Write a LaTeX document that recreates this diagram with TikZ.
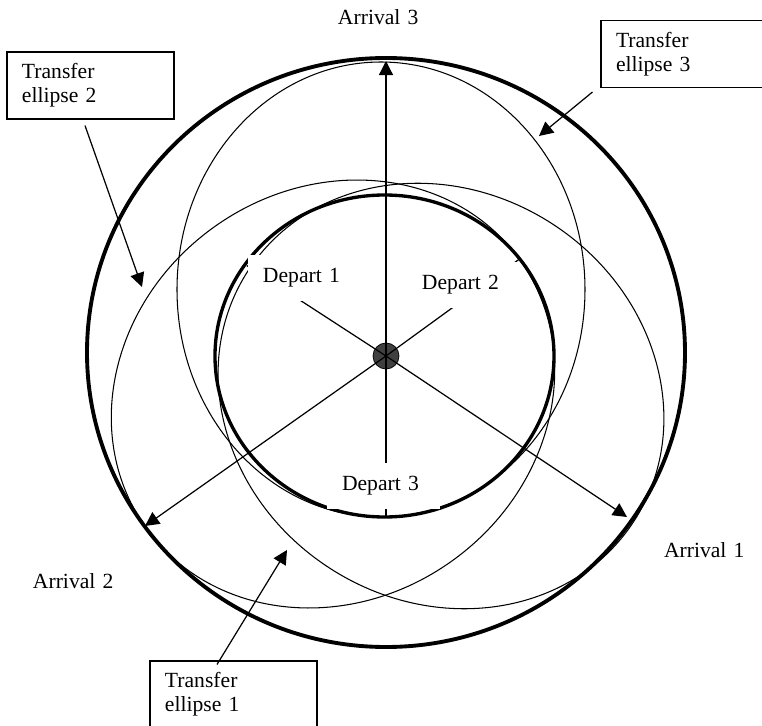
\documentclass[tikz,border=0pt]{standalone}
\usepackage{fontspec}
\setmainfont{Liberation Serif}
\usetikzlibrary{arrows.meta}
\definecolor{sungray}{RGB}{64,64,64}

\begin{document}
\begin{tikzpicture}[x=2cm,y=2cm,font=\fontsize{12.3}{13.8}\selectfont,
        orbit/.style={line width=2.2pt},
        transfer/.style={line width=0.6pt},
        ray/.style={line width=0.7pt},
        ptr/.style={line width=0.7pt,-{Triangle[length=8pt,width=8pt]}},
        tag/.style={fill=white,inner xsep=0.3cm,inner ysep=0pt,minimum height=0.92cm,text width=1.66cm,align=left},
        callout/.style={draw,line width=0.6pt,fill=white,inner xsep=0.3cm,inner ysep=0pt,minimum height=1.34cm,text width=2.74cm,align=left}]
        \clip (-3.86,3.56) rectangle (3.76,-3.70);

        % Transfer ellipses
        \draw[transfer] (-0.05,0.665) ellipse (2.04 and 2.275); % 3
        \draw[transfer,shift={(0.55,-0.40)},rotate=-33] (0,0) ellipse (2.30 and 2.05); % 1
        \draw[transfer,shift={(-0.53,-0.38)},rotate=36] (0,0) ellipse (2.30 and 2.05); % 2

        % Orbits
        \draw[orbit] (0,0.035) ellipse (2.99 and 2.945);
        \draw[line width=1.9pt] (-0.015,0) ellipse (1.695 and 1.61);

        % Sun
        \node[circle,draw,fill=sungray,minimum size=0.52cm,inner sep=0pt] (sun) at (0,0) {};

        \coordinate (d1) at (147:1.66); % Depart points
        \coordinate (d2) at (36:1.66);
        \coordinate (d3) at (0,-1.61);
        \coordinate (a1) at (2.41,-1.61); % Arrival points
        \coordinate (a2) at (-2.41,-1.70);
        \coordinate (a3) at (0,2.95);

        \draw[ray] (sun.center) -- (d1);
        \draw[ray] (sun.center) -- (d2);
        \draw[ray] (sun.center) -- (d3);
        \draw[ptr] (sun.center) -- (a1);
        \draw[ptr] (sun.center) -- (a2);
        \draw[ptr] (sun.center) -- (a3);

        % Labels
        \node[tag] (dep1) at (-0.815,0.78) {Depart 1};
        \node[tag] (dep2) at (0.775,0.71) {Depart 2};
        \node[tag] (dep3) at (-0.025,-1.30) {Depart 3};
        \node[tag] (arr1) at (3.195,-1.94) {Arrival 1};
        \node[tag] (arr2) at (-3.115,-2.25) {Arrival 2};
        \node[tag] (arr3) at (-0.065,3.39) {Arrival 3};

        % Callouts
        \node[callout] (te2) at (-2.955,2.705) {Transfer\\ellipse 2};
        \node[callout] (te3) at (2.985,3.02) {Transfer\\ellipse 3};
        \node[callout] (te1) at (-1.525,-3.385) {Transfer\\ellipse 1};

        \coordinate (p2) at (-2.44,0.69);
        \coordinate (p3) at (1.53,2.20);
        \coordinate (p1) at (-0.99,-1.94);
        \draw[ptr] ([shift={(-0.055,-0.06)}]te2.south) -- (p2);
        \draw[ptr] ([shift={(-0.08,-0.04)}]te3.south west) -- (p3);
        \draw[ptr] ([shift={(-0.165,-0.04)}]te1.north) -- (p1);
    \end{tikzpicture}
\end{document}
